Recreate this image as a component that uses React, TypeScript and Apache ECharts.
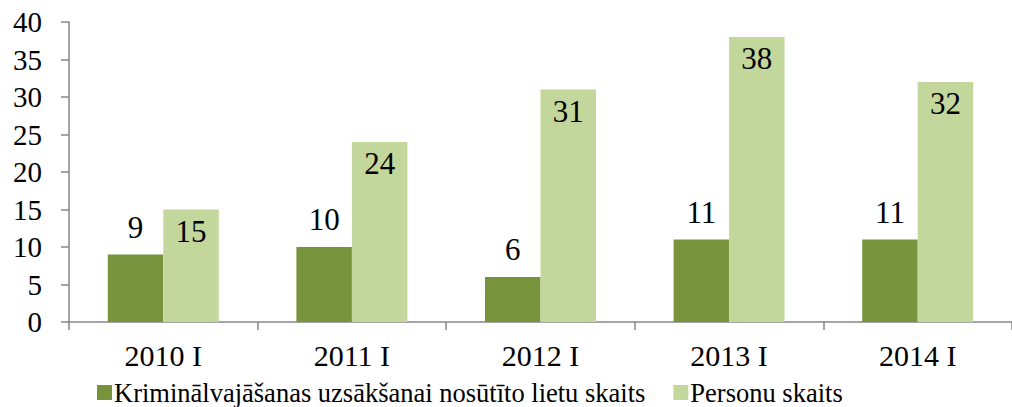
import React, { useEffect, useRef } from "react";
import * as echarts from "echarts";

const categories = ["2010 I", "2011 I", "2012 I", "2013 I", "2014 I"];
const seriesCases = [9, 10, 6, 11, 11];
const seriesPersons = [15, 24, 31, 38, 32];
const nameCases = "Kriminālvajāšanas uzsākšanai nosūtīto lietu skaits";
const namePersons = "Personu skaits";

const FONT = "Liberation Serif";

export default function App() {
  const ref = useRef<HTMLDivElement>(null);
  useEffect(() => {
    if (!ref.current) return;
    const chart = echarts.init(ref.current, undefined, { renderer: "svg" });
    chart.setOption({
      animation: false,
      textStyle: { fontFamily: FONT },
      grid: { left: 69, top: 22, bottom: 85, right: -15, containLabel: false },
      legend: {
        left: 97,
        top: 379,
        padding: 0,
        itemWidth: 15,
        itemHeight: 15,
        itemGap: 28,
        icon: "rect",
        textStyle: { fontFamily: FONT, fontSize: 26.5, color: "#000", padding: [0, 0, 0, -3] },
        data: [nameCases, namePersons],
      },
      xAxis: {
        type: "category",
        data: categories,
        axisLine: { show: true, lineStyle: { color: "#868686", width: 1.5 } },
        axisTick: { show: true, length: 8, lineStyle: { color: "#868686", width: 1.5 } },
        axisLabel: { fontFamily: FONT, fontSize: 30, color: "#000", margin: 18 },
      },
      yAxis: {
        type: "value",
        min: 0,
        max: 40,
        interval: 5,
        axisLine: { show: true, lineStyle: { color: "#868686", width: 1.5 } },
        axisTick: { show: true, length: 8, lineStyle: { color: "#868686", width: 1.5 } },
        splitLine: { show: false },
        axisLabel: { fontFamily: FONT, fontSize: 29, color: "#000", margin: 27 },
      },
      series: [
        {
          name: nameCases,
          type: "bar",
          data: seriesCases,
          barWidth: 55.5,
          barGap: "0%",
          itemStyle: { color: "#77933C" },
          label: {
            show: true,
            position: "top",
            distance: 12,
            fontFamily: FONT,
            fontSize: 31,
            color: "#000",
          },
        },
        {
          name: namePersons,
          type: "bar",
          data: seriesPersons,
          barWidth: 55.5,
          barGap: "0%",
          itemStyle: { color: "#C3D69B" },
          label: {
            show: true,
            position: "insideTop",
            distance: 6,
            fontFamily: FONT,
            fontSize: 31,
            color: "#000",
          },
        },
      ],
    });
    return () => chart.dispose();
  }, []);
  return (
    <div
      ref={ref}
      style={{ position: "fixed", left: 0, top: 0, width: 1012, height: 407, background: "#fff" }}
    />
  );
}
